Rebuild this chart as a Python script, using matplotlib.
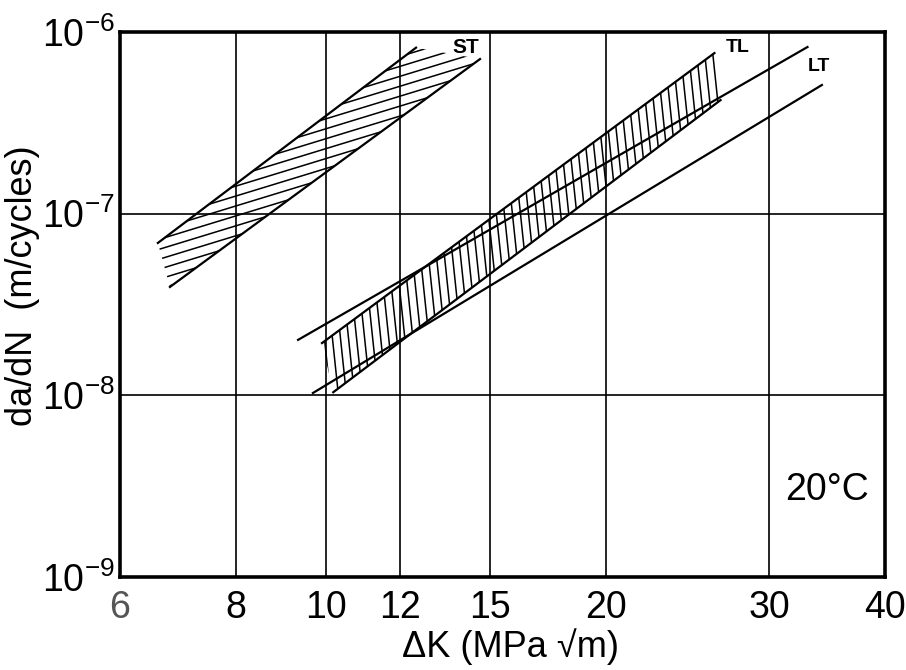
import numpy as np
import matplotlib
matplotlib.use("Agg")
import matplotlib.pyplot as plt
from matplotlib.patches import Polygon
from matplotlib.collections import LineCollection
from matplotlib.ticker import NullLocator

plt.rcParams["font.family"] = ["Liberation Sans", "DejaVu Sans"]
plt.rcParams["mathtext.fontset"] = "custom"
plt.rcParams["mathtext.rm"] = "Liberation Sans"
plt.rcParams["mathtext.default"] = "regular"

# crack growth scatter bands, end points (dK in MPa*sqrt(m), da/dN in m/cycle)
st_upper_dk = [6.59, 12.5]
st_upper_rate = [6.9e-8, 8.2e-7]
st_lower_dk = [6.79, 14.65]
st_lower_rate = [3.95e-8, 7.1e-7]

tl_upper_dk = [9.9, 26.2]
tl_upper_rate = [1.94e-8, 7.66e-7]
tl_lower_dk = [10.18, 26.6]
tl_lower_rate = [1.04e-8, 4.22e-7]

lt_upper_dk = [9.33, 33.0]
lt_upper_rate = [2.02e-8, 8.27e-7]
lt_lower_dk = [9.68, 34.2]
lt_lower_rate = [1.03e-8, 5.11e-7]

x_ticks = [6, 8, 10, 12, 15, 20, 30, 40]
y_ticks = [1e-9, 1e-8, 1e-7, 1e-6]
y_tick_labels = ["$10^{-9}$", "$10^{-8}$", "$10^{-7}$", "$10^{-6}$"]

LW_CURVE = 1.6
LW_HATCH = 1.1


def hatch_band(ax, dk_top, r_top, dk_bot, r_bot, angle_deg, spacing_px):
    """Fill the band between two lines with straight hatch strokes."""
    verts = list(zip(dk_top, r_top)) + list(zip(dk_bot[::-1], r_bot[::-1]))
    poly = Polygon(verts, closed=True, fill=False, edgecolor="none",
                   transform=ax.transData)
    ax.add_patch(poly)

    W, H = ax.bbox.width, ax.bbox.height
    a = np.deg2rad(angle_deg)
    d = np.array([np.cos(a), np.sin(a)])
    n = np.array([-np.sin(a), np.cos(a)])
    L = np.hypot(W, H)
    c = np.array([W / 2, H / 2])
    segs = []
    for off in np.arange(-L, L, spacing_px):
        p0 = c + off * n - L * d
        p1 = c + off * n + L * d
        segs.append([(p0[0] / W, p0[1] / H), (p1[0] / W, p1[1] / H)])
    lc = LineCollection(segs, colors="black", linewidths=LW_HATCH,
                        transform=ax.transAxes)
    lc.set_clip_path(poly)
    ax.add_collection(lc, autolim=False)


fig = plt.figure(figsize=(9.06, 6.70), dpi=100)
ax = fig.add_axes([0.1325, 0.1388, 0.8444, 0.8134])
ax.set_xscale("log")
ax.set_yscale("log")
ax.set_xlim(6, 40)
ax.set_ylim(1e-9, 1e-6)

ax.set_xticks(x_ticks)
ax.set_xticklabels([str(v) for v in x_ticks])
ax.xaxis.set_minor_locator(NullLocator())
ax.set_yticks(y_ticks)
ax.set_yticklabels(y_tick_labels)
ax.yaxis.set_minor_locator(NullLocator())
ax.tick_params(length=0, labelsize=27)
ax.tick_params(axis="x", pad=9)
ax.tick_params(axis="y", pad=4)
ax.get_xticklabels()[0].set_color("#555555")

ax.grid(True, color="black", lw=1.2)
ax.set_axisbelow(True)
for s in ax.spines.values():
    s.set_linewidth(2.6)

# ST band
hatch_band(ax, st_upper_dk, st_upper_rate, st_lower_dk, st_lower_rate, 17, 9.5)
ax.plot(st_upper_dk, st_upper_rate, color="black", lw=LW_CURVE)
ax.plot(st_lower_dk, st_lower_rate, color="black", lw=LW_CURVE)

# TL band
hatch_band(ax, tl_upper_dk, tl_upper_rate, tl_lower_dk, tl_lower_rate, 96, 8)
ax.plot(tl_upper_dk, tl_upper_rate, color="black", lw=LW_CURVE)
ax.plot(tl_lower_dk, tl_lower_rate, color="black", lw=LW_CURVE)

# LT band
ax.plot(lt_upper_dk, lt_upper_rate, color="black", lw=LW_CURVE)
ax.plot(lt_lower_dk, lt_lower_rate, color="black", lw=LW_CURVE)

ax.text(0.452, 0.972, "ST", transform=ax.transAxes, fontsize=15,
        fontweight="bold", ha="center", va="center")
ax.text(0.807, 0.971, "TL", transform=ax.transAxes, fontsize=14,
        fontweight="bold", ha="center", va="center")
ax.text(0.914, 0.936, "LT", transform=ax.transAxes, fontsize=14,
        fontweight="bold", ha="center", va="center")
ax.text(0.924, 0.16, "20°C", transform=ax.transAxes, fontsize=27,
        ha="center", va="center")

ax.set_xlabel("ΔK (MPa √m)", fontsize=26)
ax.set_ylabel("da/dN  (m/cycles)", fontsize=26)
ax.xaxis.set_label_coords(0.51, -0.094)
ax.yaxis.set_label_coords(-0.104, 0.535)

fig.savefig("out.png", dpi=100)
